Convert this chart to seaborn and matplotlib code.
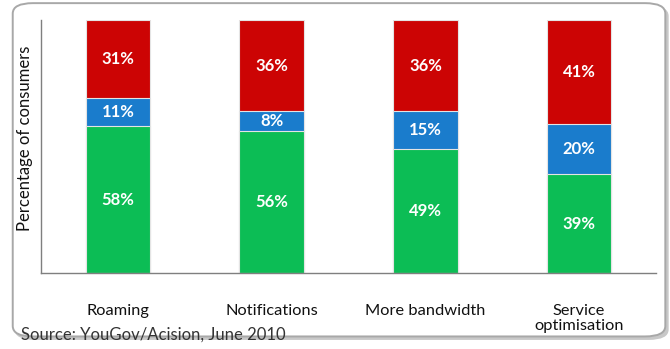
import matplotlib
matplotlib.use("Agg")
import matplotlib.pyplot as plt
from matplotlib.patches import FancyBboxPatch
import seaborn as sns
import pandas as pd

categories = ["Roaming", "Notifications", "More bandwidth", "Service\noptimisation"]
green_vals = [58, 56, 49, 39]
blue_vals = [11, 8, 15, 20]
red_vals = [31, 36, 36, 41]

GREEN = "#0cbd55"
BLUE = "#1a7ccc"
RED = "#cc0404"

sns.set_theme(style="white")
plt.rcParams["font.family"] = ["Lato", "DejaVu Sans"]

df = pd.DataFrame({
    "category": categories,
    "green": green_vals,
    "blue": blue_vals,
    "red": red_vals,
})
df["green_blue"] = df["green"] + df["blue"]
df["total"] = df["green_blue"] + df["red"]

fig = plt.figure(figsize=(6.70, 3.49), dpi=100)

# rounded frame with a soft shadow
shadow = FancyBboxPatch((0.022, 0.026), 0.976, 0.958,
                        boxstyle="round,pad=0,rounding_size=0.03",
                        transform=fig.transFigure, facecolor="#c8c8c8",
                        edgecolor="none", zorder=0)
frame = FancyBboxPatch((0.019, 0.036), 0.974, 0.955,
                       boxstyle="round,pad=0,rounding_size=0.03",
                       transform=fig.transFigure, facecolor="white",
                       edgecolor="#a8a8a8", linewidth=1.4, zorder=0.5)
fig.add_artist(shadow)
fig.add_artist(frame)

ax = fig.add_axes([0.0612, 0.2178, 0.918, 0.725])
ax.patch.set_alpha(0)
ax.set_zorder(2)

# stacked bars: draw cumulative totals from the top down
for col, color in [("total", RED), ("green_blue", BLUE), ("green", GREEN)]:
    sns.barplot(data=df, x="category", y=col, color=color, width=0.42,
                edgecolor="#e4e4e4", linewidth=0.8, saturation=1, ax=ax)

ax.set_ylim(0, 100)
ax.set_xlim(-0.5, len(categories) - 0.5)
ax.set_ylabel("")
ax.set_xlabel("")
ax.set_yticks([])

# segment labels
for i in range(len(categories)):
    g, b, r = green_vals[i], blue_vals[i], red_vals[i]
    for bottom, h in [(0, g), (g, b), (g + b, r)]:
        ax.text(i, bottom + h / 2, f"{h}%", ha="center", va="center",
                color="white", fontsize=12, fontweight="bold")

for s in ["top", "right"]:
    ax.spines[s].set_visible(False)
for s in ["left", "bottom"]:
    ax.spines[s].set_color("#7f7f7f")
    ax.spines[s].set_linewidth(1.0)

ax.set_xticks(range(len(categories)))
ax.set_xticklabels(categories, fontsize=11.8, color="#111111",
                   linespacing=1.15)
ax.tick_params(axis="x", which="major", length=0, pad=22)
ax.set_xticks([i - 0.5 for i in range(len(categories) + 1)], minor=True)
ax.tick_params(axis="x", which="minor", length=5, width=1.0,
               color="#7f7f7f", direction="out")

fig.text(0.037, 0.603, "Percentage of consumers", rotation=90,
         ha="center", va="center", fontsize=12, color="#111111", zorder=3)
fig.text(0.031, 0.042, "Source: YouGov/Acision, June 2010",
         ha="left", va="center", fontsize=12, color="#333333", zorder=3)

fig.savefig("out.png", dpi=100)
